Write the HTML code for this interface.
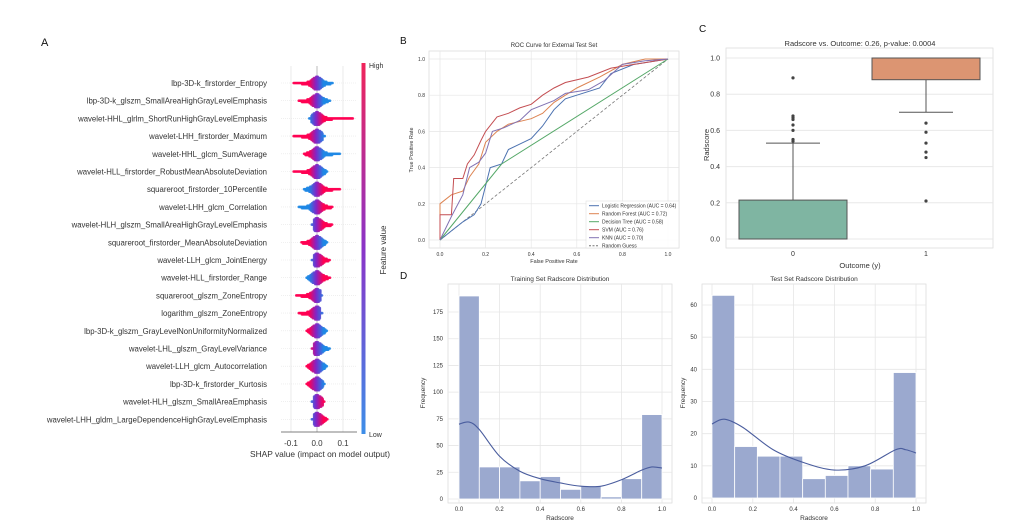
<!DOCTYPE html>
<html><head><meta charset="utf-8"><style>
html,body{margin:0;padding:0;background:#fff;}
svg{display:block;font-family:"Liberation Sans",sans-serif;}
</style></head><body>
<svg id="fig" width="1028" height="531" viewBox="0 0 1028 531"></svg>
<script>
// ===== Panel A data =====
const features=["lbp-3D-k_firstorder_Entropy","lbp-3D-k_glszm_SmallAreaHighGrayLevelEmphasis","wavelet-HHL_glrlm_ShortRunHighGrayLevelEmphasis","wavelet-LHH_firstorder_Maximum","wavelet-HHL_glcm_SumAverage","wavelet-HLL_firstorder_RobustMeanAbsoluteDeviation","squareroot_firstorder_10Percentile","wavelet-LHH_glcm_Correlation","wavelet-HLH_glszm_SmallAreaHighGrayLevelEmphasis","squareroot_firstorder_MeanAbsoluteDeviation","wavelet-LLH_glcm_JointEnergy","wavelet-HLL_firstorder_Range","squareroot_glszm_ZoneEntropy","logarithm_glszm_ZoneEntropy","lbp-3D-k_glszm_GrayLevelNonUniformityNormalized","wavelet-LHL_glszm_GrayLevelVariance","wavelet-LLH_glcm_Autocorrelation","lbp-3D-k_firstorder_Kurtosis","wavelet-HLH_glszm_SmallAreaEmphasis","wavelet-LHH_gldm_LargeDependenceHighGrayLevelEmphasis"];
const shapMin=[-0.09,-0.07,-0.03,-0.09,-0.05,-0.09,-0.05,-0.07,-0.02,-0.06,-0.02,-0.04,-0.08,-0.07,-0.04,-0.02,-0.04,-0.04,-0.02,-0.02];
const shapMax=[0.06,0.05,0.14,0.03,0.09,0.04,0.09,0.06,0.06,0.04,0.05,0.05,0.02,0.02,0.04,0.05,0.04,0.03,0.03,0.04];
const redSide=[-1,-1,1,-1,-1,-1,1,1,1,-1,1,1,-1,-1,-1,-1,-1,-1,1,1];
const shapTicks=[-0.1,0.0,0.1];
// ===== Panel B data =====
const rocNames=["Logistic Regression (AUC = 0.64)","Random Forest (AUC = 0.72)","Decision Tree (AUC = 0.58)","SVM (AUC = 0.76)","KNN (AUC = 0.70)"];
const rocColors=["#4c72b0","#dd8452","#55a868","#c44e52","#8172b3"];
const lrFpr=[0,0.05,0.1,0.15,0.18,0.2,0.22,0.27,0.3,0.35,0.4,0.45,0.5,0.55,0.6,0.7,0.75,0.85,1];
const lrTpr=[0,0.05,0.1,0.14,0.2,0.3,0.4,0.42,0.5,0.53,0.56,0.63,0.72,0.78,0.8,0.84,0.92,0.97,1];
const rfFpr=[0,0,0.05,0.1,0.13,0.17,0.2,0.25,0.3,0.4,0.45,0.5,0.55,0.6,0.7,0.8,0.9,1];
const rfTpr=[0,0.2,0.25,0.27,0.35,0.42,0.54,0.6,0.64,0.67,0.7,0.76,0.8,0.84,0.9,0.97,1,1];
const dtFpr=[0,0.27,1];
const dtTpr=[0,0.42,1];
const svmFpr=[0,0,0.05,0.06,0.1,0.12,0.15,0.18,0.2,0.25,0.3,0.35,0.4,0.45,0.5,0.55,0.65,0.75,0.85,1];
const svmTpr=[0,0.14,0.14,0.34,0.34,0.42,0.47,0.55,0.6,0.68,0.7,0.73,0.75,0.8,0.84,0.87,0.9,0.95,0.97,1];
const knnFpr=[0,0.05,0.1,0.13,0.17,0.2,0.23,0.28,0.35,0.4,0.5,0.55,0.65,0.72,0.8,0.9,1];
const knnTpr=[0,0.13,0.25,0.4,0.43,0.48,0.6,0.62,0.66,0.72,0.77,0.81,0.83,0.88,0.97,0.99,1];
const rocTicks=[0,0.2,0.4,0.6,0.8,1.0];
// ===== Panel C data =====
const boxCats=["0","1"];
const boxQ1=[0.0,0.88];
const boxQ3=[0.215,1.0];
const boxWhiskLo=[0.0,0.70];
const boxWhiskHi=[0.53,1.0];
const boxColors=["#7fb5a2","#dc9572"];
const outliers0=[0.89,0.68,0.67,0.66,0.63,0.60,0.55,0.54];
const outliers1=[0.64,0.59,0.53,0.48,0.45,0.21];
const boxTicks=[0,0.2,0.4,0.6,0.8,1.0];
// ===== Panel D data =====
const trainCounts=[190,30,30,17,21,9,12,2,19,79];
const trainKdeX=[0,0.05,0.1,0.2,0.3,0.4,0.5,0.6,0.7,0.8,0.9,0.95,1.0];
const trainKdeY=[70,72,65,40,26,19,15,12,12,18,27,30,29];
const trainTicks=[0,25,50,75,100,125,150,175];
const testCounts=[63,16,13,13,6,7,10,9,39];
const testKdeX=[0,0.06,0.15,0.3,0.45,0.6,0.75,0.9,0.95,1.0];
const testKdeY=[23,24.5,22,15,11,8.7,10,15,15,14];
const testTicks=[0,10,20,30,40,50,60];
const xTicksD=[0,0.2,0.4,0.6,0.8,1.0];

const NS="http://www.w3.org/2000/svg";
const svg=document.getElementById('fig');
function mk(tag,attrs,parent,txt){const e=document.createElementNS(NS,tag);for(const k in attrs)e.setAttribute(k,attrs[k]);if(txt!==undefined)e.textContent=txt;(parent||svg).appendChild(e);return e;}
function txt(x,y,s,size,anchor,parent,extra){const t=mk('text',Object.assign({x:x,y:y,'font-size':size,'text-anchor':anchor||'start',fill:'#333'},extra||{}),parent,s);return t;}
function fmt1(v){return v.toFixed(1);}

// ===== Panel A =====
const gA=mk('g',{});


const pl=txt(41,46,"A",11,'start',gA,{fill:'#111'});

const sx=v=>317+v*260;
const rowY=i=>83+i*17.7;
shapTicks.forEach(t=>{
  const l=mk('line',{x1:sx(t),x2:sx(t),y1:66,y2:432,stroke:t===0?'#aaa':'#ddd','stroke-width':t===0?0.8:0.6},gA);
  
  const tl=txt(sx(t),446,t===0?"0.0":fmt1(t),8,'middle',gA);
  
});
mk('line',{x1:281,x2:357,y1:432,y2:432,stroke:'#555','stroke-width':0.7},gA);
function mix(t){
  const b=[30,136,229],p=[128,40,200],r=[255,0,82];
  let c;if(t<0.5){const u=t*2;c=b.map((v,i)=>v+(p[i]-v)*u);}else{const u=(t-0.5)*2;c=p.map((v,i)=>v+(r[i]-v)*u);}
  return `rgb(${c.map(Math.round).join(',')})`;
}
features.forEach((f,i)=>{
  const y=rowY(i);
  const gl=mk('line',{x1:281,x2:357,y1:y,y2:y,stroke:'#e6e6e6','stroke-width':0.6,'stroke-dasharray':'1,1'},gA);
  
  const lab=txt(267,y+3,f,7.8,'end',gA);
  
  const lo=shapMin[i],hi=shapMax[i],side=redSide[i];
  for(let v=lo;v<=hi+1e-9;v+=0.003){
    const edge=Math.min(v-lo,hi-v);
    let dens=Math.round(1+8*Math.exp(-Math.pow(v/0.022,2))+2*Math.exp(-Math.pow(v/0.05,2)));
    if(edge<0.006)dens=1;
    let t=0.5+side*v*18;t=Math.max(0,Math.min(1,t));
    for(let k=0;k<dens;k++){
      const off=(k%2?1:-1)*Math.ceil(k/2)*1.25;
      const d=mk('circle',{cx:sx(v),cy:y+off,r:1.3,fill:mix(t),opacity:0.85},gA);
      
      
    }
  }
});
const xa=txt(320,457,"SHAP value (impact on model output)",8.4,'middle',gA);

const defs=mk('defs',{});
const lg=mk('linearGradient',{id:'cb',x1:0,y1:1,x2:0,y2:0},defs);
mk('stop',{offset:'0','stop-color':'#3d8ee8'},lg);mk('stop',{offset:'0.5','stop-color':'#8a34c8'},lg);mk('stop',{offset:'1','stop-color':'#f0245a'},lg);
const cb=mk('rect',{x:361.5,y:63,width:4,height:371,fill:'url(#cb)'},gA);

const hiT=txt(369,68,"High",7,'start',gA);
const loT=txt(369,437,"Low",7,'start',gA);
const fv=txt(0,0,"Feature value",8,'middle',gA,{transform:'translate(386,250) rotate(-90)'});


// ===== Panel B =====
const gB=mk('g',{});

const lb=txt(400,44,"B",10,'start',gB,{fill:'#111'});
const bx=v=>440+v*228, by=v=>240-v*181;
mk('rect',{x:429,y:51,width:250,height:197,fill:'#fff',stroke:'#ddd','stroke-width':0.8},gB);
rocTicks.forEach(t=>{
  mk('line',{x1:bx(t),x2:bx(t),y1:51,y2:248,stroke:'#e6e6e6','stroke-width':0.7},gB);
  mk('line',{x1:429,x2:679,y1:by(t),y2:by(t),stroke:'#e6e6e6','stroke-width':0.7},gB);
  const a=txt(bx(t),256,fmt1(t),5,'middle',gB);
  const b=txt(425,by(t)+2,fmt1(t),5,'end',gB);
});
const rt=txt(554,47,"ROC Curve for External Test Set",6,'middle',gB);
const rxl=txt(554,263,"False Positive Rate",5.5,'middle',gB);
const ryl=txt(0,0,"True Positive Rate",5.5,'middle',gB,{transform:'translate(413,150) rotate(-90)'});
const rg=mk('line',{x1:bx(0),y1:by(0),x2:bx(1),y2:by(1),stroke:'#777','stroke-width':0.8,'stroke-dasharray':'3,2'},gB);

const rocSeries=[[lrFpr,lrTpr],[rfFpr,rfTpr],[dtFpr,dtTpr],[svmFpr,svmTpr],[knnFpr,knnTpr]];
const rocKeys=['roc-logistic-regression','roc-random-forest','roc-decision-tree','roc-svm','roc-knn'];
rocSeries.forEach((s,i)=>{
  let d='';s[0].forEach((x,j)=>{d+=(j?'L':'M')+bx(x).toFixed(1)+','+by(s[1][j]).toFixed(1);});
  const p=mk('path',{d:d,fill:'none',stroke:rocColors[i],'stroke-width':1},gB);
  
});
const leg=mk('g',{},gB);
mk('rect',{x:586,y:201,width:93,height:47,fill:'#fff',stroke:'#ddd','stroke-width':0.6,opacity:0.9},leg);
rocNames.concat(["Random Guess"]).forEach((n,i)=>{
  const y=205.7+i*8;
  mk('line',{x1:589,x2:599,y1:y,y2:y,stroke:i<5?rocColors[i]:'#777','stroke-width':1,'stroke-dasharray':i<5?'none':'2,1.5'},leg);
  const e=txt(602,y+1.8,n,5,'start',leg);
});

// ===== Panel C =====
const gC=mk('g',{});
const lc=txt(699,32,"C",10,'start',gC,{fill:'#111'});
const cy=v=>239-v*181;
const cx=[793,926];
mk('rect',{x:726,y:48,width:267,height:200,fill:'#fff',stroke:'#ddd','stroke-width':0.8},gC);
boxTicks.forEach(t=>{
  mk('line',{x1:726,x2:993,y1:cy(t),y2:cy(t),stroke:'#e8e8e8','stroke-width':1},gC);
  const a=txt(720,cy(t)+2.5,fmt1(t),7,'end',gC);
});
const ct=txt(860,46,"Radscore vs. Outcome: 0.26, p-value: 0.0004",7.5,'middle',gC);
const cxl=txt(860,268,"Outcome (y)",7.5,'middle',gC);
const cyl=txt(0,0,"Radscore",7.5,'middle',gC,{transform:'translate(709,145) rotate(-90)'});
const outl=[outliers0,outliers1];
boxCats.forEach((c,i)=>{
  const x=cx[i];
  const w=mk('line',{x1:x,x2:x,y1:cy(boxWhiskLo[i]),y2:cy(boxWhiskHi[i]),stroke:'#555','stroke-width':1},gC);
  
  [boxWhiskLo[i],boxWhiskHi[i]].forEach(v=>{mk('line',{x1:x-27,x2:x+27,y1:cy(v),y2:cy(v),stroke:'#555','stroke-width':1},gC);});
  const r=mk('rect',{x:x-54,y:cy(boxQ3[i]),width:108,height:cy(boxQ1[i])-cy(boxQ3[i]),fill:boxColors[i],stroke:'#555','stroke-width':1},gC);
  
  outl[i].forEach(v=>{const o=mk('circle',{cx:x,cy:cy(v),r:1.6,fill:'#444'},gC);});
  const tl=txt(x,256,c,7,'middle',gC);
});

// ===== Panel D =====
const ld=txt(400,279,"D",10,'start',svg,{fill:'#111'});
function hist(cfg){
  const g=mk('g',{});
  const X=v=>cfg.x0+v*(cfg.x1-cfg.x0), Y=v=>cfg.y0-v*cfg.ppu;
  mk('rect',{x:cfg.fl,y:284,width:cfg.fr-cfg.fl,height:219,fill:'#fff',stroke:'#ddd','stroke-width':0.8},g);
  xTicksD.forEach(t=>{
    mk('line',{x1:X(t),x2:X(t),y1:284,y2:503,stroke:'#e6e6e6','stroke-width':0.8},g);
    const a=txt(X(t),511,fmt1(t),6,'middle',g);
  });
  cfg.ticks.forEach(t=>{
    mk('line',{x1:cfg.fl,x2:cfg.fr,y1:Y(t),y2:Y(t),stroke:'#e6e6e6','stroke-width':0.8},g);
    const a=txt(cfg.fl-5,Y(t)+2,String(t),6,'end',g);
  });
  const n=cfg.counts.length,bw=1/n;
  cfg.counts.forEach((c,i)=>{
    const b=mk('rect',{x:X(i*bw),y:Y(c),width:X(bw)-X(0),height:Y(0)-Y(c),fill:'#9ba9cf',stroke:'#fff','stroke-width':0.8},g);
    
  });
  const P=cfg.kx.map((x,i)=>[X(x),Y(cfg.ky[i])]);
  let d='M'+P[0][0]+','+P[0][1];
  for(let i=0;i<P.length-1;i++){
    const p0=P[Math.max(0,i-1)],p1=P[i],p2=P[i+1],p3=P[Math.min(P.length-1,i+2)];
    d+=`C${p1[0]+(p2[0]-p0[0])/6},${p1[1]+(p2[1]-p0[1])/6} ${p2[0]-(p3[0]-p1[0])/6},${p2[1]-(p3[1]-p1[1])/6} ${p2[0]},${p2[1]}`;
  }
  const k=mk('path',{d:d,fill:'none',stroke:'#4a5d9e','stroke-width':1.1},g);
  
  const cxm=(cfg.fl+cfg.fr)/2;
  const t=txt(cxm,281,cfg.title,6.5,'middle',g);
  const xl=txt(cxm,520,"Radscore",6.5,'middle',g);
  const yl=txt(0,0,"Frequency",6.5,'middle',g,{transform:`translate(${cfg.yl},393) rotate(-90)`});
}
hist({name:'training-histogram',x0:459,x1:662,y0:499,ppu:187/175,fl:448,fr:672,counts:trainCounts,kx:trainKdeX,ky:trainKdeY,ticks:trainTicks,title:"Training Set Radscore Distribution",yl:425});
hist({name:'test-histogram',x0:712,x1:916,y0:498,ppu:193/60,fl:702,fr:926,counts:testCounts,kx:testKdeX,ky:testKdeY,ticks:testTicks,title:"Test Set Radscore Distribution",yl:685});
</script>
</body></html>
